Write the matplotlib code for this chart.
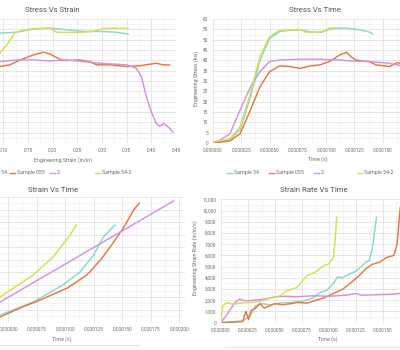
import matplotlib
matplotlib.use("Agg")
import matplotlib.pyplot as plt
from matplotlib.lines import Line2D
from matplotlib.ticker import MultipleLocator, FuncFormatter

# ==============================================================================
# DATA
# ==============================================================================
SERIES = ["Sample 54", "Sample 055", "2", "Sample 54-2"]
COLORS = ["#86d9cc", "#e8773f", "#d690e4", "#d6df4c"]

# Stress vs strain (strain in/in, stress ksi)
ss_54_strain = [0.0, 0.02, 0.05, 0.08, 0.093, 0.127, 0.161, 0.194, 0.228, 0.262, 0.295, 0.329, 0.353]
ss_54_stress = [0, 30, 50, 53, 53.2, 53.6, 55.1, 55.6, 54.8, 54.0, 54.0, 53.6, 52.7]
ss_055_strain = [0.0, 0.04, 0.07, 0.093, 0.113, 0.134, 0.161, 0.181, 0.194, 0.215, 0.228,
                 0.255, 0.275, 0.289, 0.316, 0.350, 0.377, 0.410, 0.424, 0.437]
ss_055_stress = [0, 20, 33, 37.0, 37.8, 40.2, 42.6, 43.9, 43.1, 40.5, 39.9,
                 40.2, 39.4, 37.8, 37.8, 37.0, 37.4, 38.6, 37.8, 37.8]
ss_2_strain = [0.0, 0.03, 0.06, 0.093, 0.127, 0.161, 0.194, 0.228, 0.262, 0.296, 0.350,
               0.370, 0.380, 0.390, 0.400, 0.410, 0.417, 0.425, 0.434, 0.444]
ss_2_stress = [0, 25, 38, 39.4, 40.2, 40.2, 39.7, 40.2, 39.4, 38.6, 37.8,
               36.1, 32.0, 22.4, 15.1, 9.4, 8.1, 9.4, 7.8, 5.3]
ss_542_strain = [0.0, 0.03, 0.06, 0.08, 0.093, 0.107, 0.124, 0.144, 0.161, 0.194, 0.208,
                 0.228, 0.262, 0.282, 0.302, 0.329, 0.353]
ss_542_stress = [0, 5, 25, 38, 43.4, 47.5, 53.5, 54.8, 55.4, 55.6, 53.6,
                 53.5, 53.6, 54.0, 55.4, 55.6, 55.4]

# Stress vs time (time s, stress ksi)
st_54_time = [0, 15e-6, 24e-6, 33e-6, 41.5e-6, 50e-6, 59e-6, 68e-6, 77e-6, 86e-6, 95e-6,
              103e-6, 109e-6, 118e-6, 126e-6, 132e-6, 139e-6, 141e-6]
st_54_stress = [0.3, 1.5, 6.5, 22, 40, 50.5, 54, 54.5, 54.8, 53.8, 53.5,
                55, 55.5, 55.6, 55.1, 54.5, 53.6, 52.8]
st_055_time = [0, 15e-6, 24e-6, 33e-6, 41.5e-6, 50e-6, 59e-6, 68e-6, 77e-6, 86e-6, 94.5e-6,
               103e-6, 112e-6, 118e-6, 122e-6, 126e-6, 132e-6, 138e-6, 144e-6, 156e-6, 163e-6, 170e-6]
st_055_stress = [0, 1, 4.5, 15.9, 27.2, 34.5, 37.3, 37, 36.1, 37.3, 37.8,
                 39.4, 42.6, 43.9, 41.8, 40.2, 39.7, 39.4, 37.8, 37, 38.9, 37.8]
st_2_time = [0, 6e-6, 15e-6, 24e-6, 33e-6, 41.5e-6, 50e-6, 59e-6, 77e-6, 94.5e-6,
             112e-6, 121e-6, 138e-6, 156e-6, 170e-6]
st_2_stress = [0.3, 1.3, 4.5, 16, 27, 34.5, 39.4, 40.2, 40.5, 40.5,
               40.2, 39.7, 39.4, 38.6, 37]
st_542_time = [0, 15e-6, 24e-6, 33e-6, 41.5e-6, 50e-6, 59e-6, 68e-6, 77e-6, 82e-6,
               91e-6, 97e-6, 103e-6, 109e-6]
st_542_stress = [0.5, 2, 7.8, 24, 41.8, 51.5, 54.5, 54.8, 55, 53.6,
                 53.6, 54, 55.6, 55.7]

# Strain vs time (time s, strain in/in)
sv_54_time = [0, 25e-6, 43e-6, 72e-6, 98e-6, 113e-6, 125e-6, 133e-6, 141e-6, 144e-6]
sv_54_strain = [0, 0.005, 0.028, 0.08, 0.148, 0.2, 0.268, 0.336, 0.376, 0.388]
sv_055_time = [0, 25e-6, 43e-6, 60.5e-6, 78e-6, 102e-6, 119e-6, 131e-6, 142e-6, 151e-6, 160e-6, 165e-6]
sv_055_strain = [0, 0.003, 0.020, 0.056, 0.088, 0.136, 0.188, 0.248, 0.316, 0.376, 0.448, 0.476]
sv_2_time = [13e-6, 43e-6, 119e-6, 195e-6]
sv_2_strain = [0, 0.08, 0.282, 0.484]
sv_542_time = [0, 20e-6, 43e-6, 72e-6, 89.5e-6, 104.4e-6, 109.7e-6]
sv_542_strain = [0, 0.04, 0.1, 0.188, 0.26, 0.348, 0.388]

# Strain rate vs time (time s, rate in/in/s)
sr_54_time = [0, 10e-6, 20e-6, 27e-6, 32e-6, 38e-6, 45e-6, 55e-6, 65e-6, 75e-6, 85e-6, 92e-6,
              98e-6, 104e-6, 108e-6, 112e-6, 118e-6, 125e-6, 130e-6, 134e-6, 137e-6, 140e-6,
              142e-6, 144e-6]
sr_54_rate = [0, 80, 150, 600, 1500, 1700, 1600, 1750, 1800, 1900, 2200, 2700,
              2900, 3500, 4100, 4000, 4300, 4600, 5000, 5400, 5500, 6500,
              8000, 9400]
sr_055_time = [0, 10e-6, 20e-6, 23e-6, 25.5e-6, 28e-6, 32e-6, 36e-6, 40e-6, 45e-6, 50e-6,
               57e-6, 65e-6, 70e-6, 80e-6, 88e-6, 95e-6, 104e-6, 113e-6, 122e-6, 128e-6,
               134e-6, 140e-6, 147e-6, 153e-6, 160e-6, 163e-6, 166e-6]
sr_055_rate = [0, 50, 100, 1000, 300, 1100, 1300, 1700, 1300, 1500, 1700,
               1600, 1700, 1800, 1750, 2000, 2200, 2600, 3000, 3700, 4200,
               4800, 5200, 5400, 5800, 6000, 7000, 10300]
sr_2_time = [0, 6e-6, 13e-6, 17e-6, 23e-6, 30e-6, 40e-6, 50e-6, 60e-6, 70e-6, 85e-6,
             100e-6, 115e-6, 125e-6, 130e-6, 145e-6, 160e-6, 170e-6]
sr_2_rate = [0, 800, 1800, 2100, 1950, 2000, 2100, 2300, 2350, 2300, 2400,
             2350, 2450, 2600, 2450, 2500, 2550, 2650]
sr_542_time = [0, 1.5e-6, 5.2e-6, 11.4e-6, 17.6e-6, 26.9e-6, 36.1e-6, 42.3e-6, 54.6e-6,
               60.8e-6, 70.1e-6, 79.3e-6, 87e-6, 94.7e-6, 99.4e-6, 104e-6, 105.6e-6, 107.1e-6]
sr_542_rate = [0, 1490, 1790, 1640, 1750, 1790, 1900, 2090, 2390,
               2840, 3130, 4180, 4480, 5070, 5220, 5820, 7160, 9400]

# ==============================================================================
# LAYOUT
# ==============================================================================
W, H = 400, 350
TXT = "#6b6b6b"
plt.rcParams['font.family'] = ['Roboto', 'DejaVu Sans']

fig = plt.figure(figsize=(4, 3.5), dpi=100)
fig.patch.set_facecolor("white")


def px_axes(x0, y0, x1, y1):
    """Axes placed by pixel box (may run past the figure edge)"""
    return fig.add_axes([x0 / W, 1 - y1 / H, (x1 - x0) / W, (y1 - y0) / H])


def style(ax, xmaj, ymaj, xfmt, yfmt):
    ax.set_facecolor("white")
    for s in ax.spines.values():
        s.set_visible(False)
    ax.xaxis.set_major_locator(MultipleLocator(xmaj))
    ax.yaxis.set_major_locator(MultipleLocator(ymaj))
    ax.xaxis.set_minor_locator(MultipleLocator(xmaj / 2))
    ax.yaxis.set_minor_locator(MultipleLocator(ymaj / 2))
    ax.xaxis.set_major_formatter(FuncFormatter(xfmt))
    ax.yaxis.set_major_formatter(FuncFormatter(yfmt))
    ax.grid(True, which="major", color="#e2e2e2", lw=0.6)
    ax.grid(True, which="minor", color="#f1f1f1", lw=0.5)
    ax.set_axisbelow(True)
    ax.tick_params(which="both", length=0, labelsize=3.4, colors=TXT, pad=3.5)


def draw(ax, xs, ys):
    for x, y, c in zip(xs, ys, COLORS):
        ax.plot(x, y, color=c, lw=1.05, solid_joinstyle="round")


def legend(y, x_markers):
    for xm, name, c in zip(x_markers, SERIES, COLORS):
        fig.add_artist(Line2D([(xm - 3) / W, (xm + 2) / W], [1 - y / H] * 2, color=c, lw=1.0))
        fig.text((xm + 4) / W, 1 - y / H, name, fontsize=3.8, color=TXT, va="center", ha="left")


t_fmt = lambda v, p: f"{v:.6f}"

# 1. Stress Vs Strain (top left, cut off on the left)
ax1 = px_axes(-46, 19, 176, 143)
draw(ax1, [ss_54_strain, ss_055_strain, ss_2_strain, ss_542_strain],
     [ss_54_stress, ss_055_stress, ss_2_stress, ss_542_stress])
ax1.set_xlim(0, 0.45)
ax1.set_ylim(0, 60)
style(ax1, 0.05, 5, lambda v, p: f"{v:.2f}", lambda v, p: f"{v:g}")
ax1.tick_params(axis="y", labelleft=False)   # y labels sit outside the crop

# 2. Stress Vs Time (top right)
ax2 = px_axes(213, 19, 411, 143)
draw(ax2, [st_54_time, st_055_time, st_2_time, st_542_time],
     [st_54_stress, st_055_stress, st_2_stress, st_542_stress])
ax2.set_xlim(0, 175e-6)
ax2.set_ylim(0, 60)
style(ax2, 25e-6, 5, t_fmt, lambda v, p: f"{v:g}")

# 3. Strain Vs Time (bottom left)
ax3 = px_axes(-49, 197, 185, 322)
draw(ax3, [sv_54_time, sv_055_time, sv_2_time, sv_542_time],
     [sv_54_strain, sv_055_strain, sv_2_strain, sv_542_strain])
ax3.set_xlim(0, 205e-6)
ax3.set_ylim(0, 0.5)
style(ax3, 25e-6, 0.05, t_fmt, lambda v, p: f"{v:.2f}")
ax3.tick_params(axis="y", labelleft=False)

# 4. Strain Rate Vs Time (bottom right)
ax4 = px_axes(221, 199.3, 410, 322.7)
draw(ax4, [sr_54_time, sr_055_time, sr_2_time, sr_542_time],
     [sr_54_rate, sr_055_rate, sr_2_rate, sr_542_rate])
ax4.set_xlim(0, 175e-6)
ax4.set_ylim(0, 11000)
style(ax4, 25e-6, 1000, t_fmt, lambda v, p: f"{v:,.0f}")

# titles / axis labels as figure text
def ftext(x, y, s, size, color=TXT, rot=0):
    fig.text(x / W, 1 - y / H, s, fontsize=size, color=color, ha="center", va="center", rotation=rot)

ftext(52, 10, "Stress Vs Strain", 5.6, "#555555")
ftext(315, 10, "Stress Vs Time", 5.6, "#555555")
ftext(53, 190, "Strain Vs Time", 5.6, "#555555")
ftext(314, 190, "Strain Rate Vs Time", 5.6, "#555555")

ftext(63, 160, "Engineering Strain (in/in)", 3.8)
ftext(318, 159, "Time (s)", 3.8)
ftext(62, 339, "Time (s)", 3.8)
ftext(328, 339, "Time (s)", 3.8)
ftext(196, 78, "Engineering Stress (ksi)", 3.8, rot=90)
ftext(195, 258, "Engineering Strain Rate (in/in/s)", 3.8, rot=90)

legend(173, [-22, 13, 53, 98])
legend(173, [230, 272, 317, 360])

# faint card borders at the bottom
fig.add_artist(Line2D([0, 140 / W], [1 - 345 / H] * 2, color="#e4e4e4", lw=0.8))
fig.add_artist(Line2D([225 / W, 1], [1 - 347 / H] * 2, color="#e4e4e4", lw=0.8))

plt.savefig("out.png", dpi=100, facecolor="white")
plt.close()
